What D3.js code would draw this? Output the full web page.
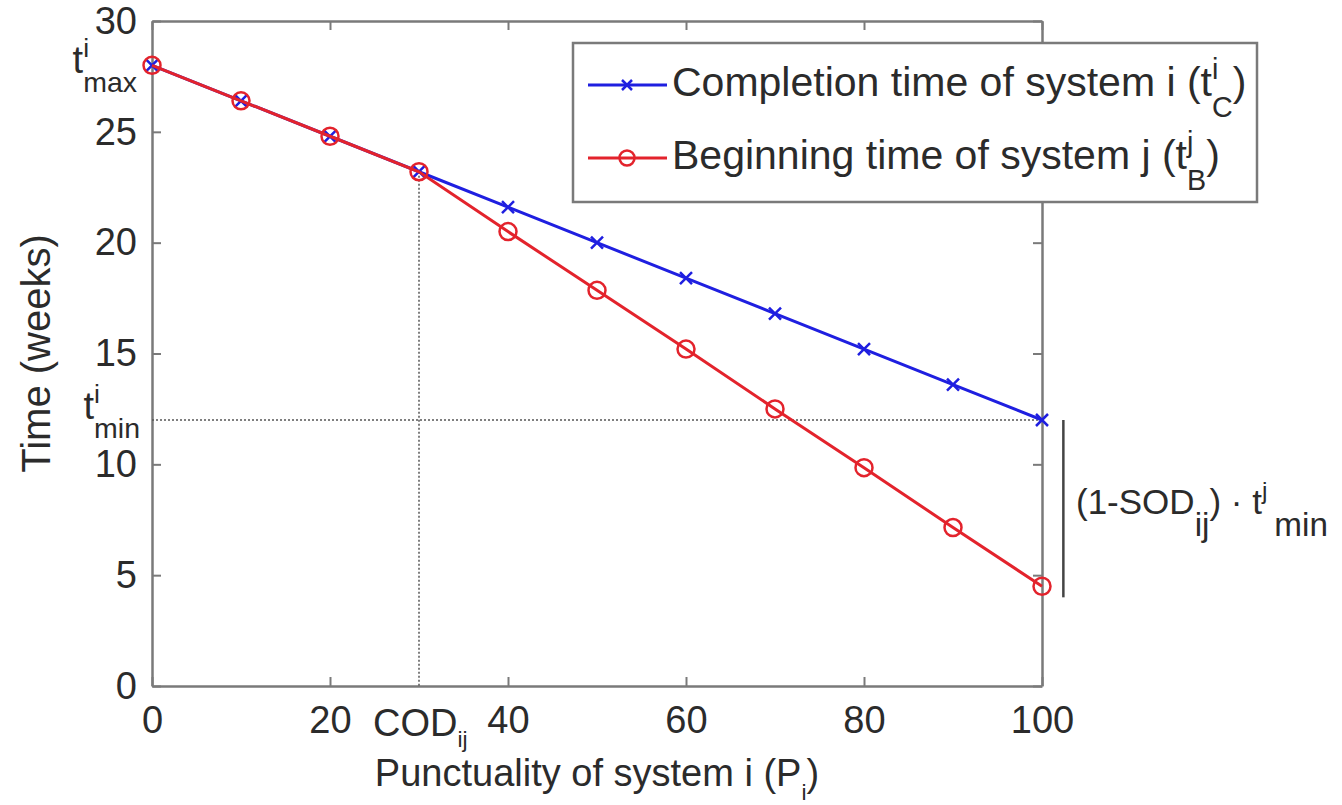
<!DOCTYPE html>
<html>
<head>
<meta charset="utf-8">
<script src="https://cdn.jsdelivr.net/npm/d3@7"></script>
<style>
  body { margin: 0; background: #fff; }
  svg { font-family: "Liberation Sans", Arial, Helvetica, sans-serif; }
  text { fill: #2b2b2b; }
</style>
</head>
<body>
<div id="chart-area"></div>
<script>
// data
const punctuality = [0, 10, 20, 30, 40, 50, 60, 70, 80, 90, 100];
const completionTime = [28, 26.4, 24.8, 23.2, 21.6, 20.0, 18.4, 16.8, 15.2, 13.6, 12.0];
const beginningTime = [28, 26.4, 24.8, 23.2, 20.5, 17.85, 15.2, 12.5, 9.85, 7.15, 4.5];
const xTicks = [0, 20, 40, 60, 80, 100];
const yTicks = [0, 5, 10, 15, 20, 25, 30];
const codX = 30, tMax = 28, tMin = 12, tEnd = 4;

const width = 1342, height = 805;
const blue = "#1f1fe0", red = "#e3232c", axisGrey = "#7a7a7a";

const svg = d3.select("#chart-area").append("svg")
    .attr("width", width)
    .attr("height", height);

svg.append("rect").attr("width", width).attr("height", height).attr("fill", "#fff");

const x = d3.scaleLinear().domain([0, 100]).range([152, 1042]);
const y = d3.scaleLinear().domain([0, 30]).range([686, 21]);

// small helper for text with sup/subscripts (like matlab tex labels)
function mathText(g, px, py, parts, size, anchor, subScale = 0.7, subDrop = 0.5) {
    const grp = g.append("g");
    let cx = 0;
    parts.forEach(p => {
        if (p.t !== undefined) {
            const el = grp.append("text").attr("x", cx).attr("y", 0)
                .style("font-size", size + "px").text(p.t);
            cx += el.node().getComputedTextLength();
        } else {
            let w = 0;
            if (p.sup) {
                const s = grp.append("text").attr("x", cx).attr("y", -size * 0.42)
                    .style("font-size", (size * 0.7) + "px").text(p.sup);
                w = Math.max(w, s.node().getComputedTextLength());
            }
            if (p.sub) {
                const s = grp.append("text").attr("x", cx).attr("y", size * subDrop)
                    .style("font-size", (size * subScale) + "px").text(p.sub);
                w = Math.max(w, s.node().getComputedTextLength());
            }
            cx += w;
        }
    });
    let dx = 0;
    if (anchor === "end") dx = -cx;
    if (anchor === "middle") dx = -cx / 2;
    grp.attr("transform", "translate(" + (px + dx) + "," + py + ")");
    return grp;
}

// axes
const tickLen = 9;
const axBottom = svg.append("g").attr("transform", "translate(0," + y(0) + ")")
    .call(d3.axisBottom(x).tickValues(xTicks).tickSizeInner(-tickLen).tickSizeOuter(0).tickPadding(20));
const axLeft = svg.append("g").attr("transform", "translate(" + x(0) + ",0)")
    .call(d3.axisLeft(y).tickValues(yTicks).tickSizeInner(-tickLen).tickSizeOuter(0).tickPadding(15));
const axTop = svg.append("g").attr("transform", "translate(0," + y(30) + ")")
    .call(d3.axisTop(x).tickValues(xTicks).tickSizeInner(-tickLen).tickSizeOuter(0).tickFormat(""));
const axRight = svg.append("g").attr("transform", "translate(" + x(100) + ",0)")
    .call(d3.axisRight(y).tickValues(yTicks).tickSizeInner(-tickLen).tickSizeOuter(0).tickFormat(""));

[axBottom, axLeft, axTop, axRight].forEach(a => {
    a.attr("font-family", null).attr("font-size", null);
    a.select(".domain").attr("stroke", axisGrey).attr("stroke-width", 2.5);
    a.selectAll(".tick line").attr("stroke", axisGrey).attr("stroke-width", 2);
    a.selectAll(".tick text").style("font-size", "38px").attr("fill", "#2b2b2b");
});

// dotted guide lines
svg.append("line")
    .attr("x1", x(codX)).attr("x2", x(codX))
    .attr("y1", y(completionTime[3])).attr("y2", y(0))
    .attr("stroke", "#555").attr("stroke-width", 1.5).attr("stroke-dasharray", "2,2");
svg.append("line")
    .attr("x1", x(0)).attr("x2", x(100))
    .attr("y1", y(tMin)).attr("y2", y(tMin))
    .attr("stroke", "#555").attr("stroke-width", 1.5).attr("stroke-dasharray", "2,2");

// series
const line = d3.line().x((d, i) => x(punctuality[i])).y(d => y(d));

svg.append("path").datum(completionTime)
    .attr("d", line).attr("fill", "none").attr("stroke", blue).attr("stroke-width", 3);

const xSize = 6;
function crossPath(cx, cy, s) {
    return "M" + (cx - s) + "," + (cy - s) + "L" + (cx + s) + "," + (cy + s) +
        "M" + (cx - s) + "," + (cy + s) + "L" + (cx + s) + "," + (cy - s);
}
svg.selectAll(".xmark").data(completionTime).enter().append("path")
    .attr("class", "xmark")
    .attr("d", (d, i) => crossPath(x(punctuality[i]), y(d), xSize))
    .attr("stroke", blue).attr("stroke-width", 2.5).attr("fill", "none");

svg.append("path").datum(beginningTime)
    .attr("d", line).attr("fill", "none").attr("stroke", red).attr("stroke-width", 3);

svg.selectAll(".omark").data(beginningTime).enter().append("circle")
    .attr("class", "omark")
    .attr("cx", (d, i) => x(punctuality[i]))
    .attr("cy", d => y(d))
    .attr("r", 8.5)
    .attr("fill", "none").attr("stroke", red).attr("stroke-width", 2.5);

// legend
const legend = svg.append("g");
legend.append("rect")
    .attr("x", 573).attr("y", 43).attr("width", 684).attr("height", 159)
    .attr("fill", "#fff").attr("stroke", axisGrey).attr("stroke-width", 2.5);

const rows = [85, 158];
legend.append("line").attr("x1", 588).attr("x2", 667).attr("y1", rows[0]).attr("y2", rows[0])
    .attr("stroke", blue).attr("stroke-width", 3);
legend.append("path").attr("d", crossPath(627, rows[0], 5))
    .attr("stroke", blue).attr("stroke-width", 2.5);
legend.append("line").attr("x1", 588).attr("x2", 667).attr("y1", rows[1]).attr("y2", rows[1])
    .attr("stroke", red).attr("stroke-width", 3);
legend.append("circle").attr("cx", 627).attr("cy", rows[1]).attr("r", 7.5)
    .attr("fill", "none").attr("stroke", red).attr("stroke-width", 2.5);

mathText(legend, 672, rows[0] + 11,
    [{t: "Completion time of system i (t"}, {sup: "i", sub: "C"}, {t: ")"}], 41, "start");
mathText(legend, 672, rows[1] + 11,
    [{t: "Beginning time of system j (t"}, {sup: "j", sub: "B"}, {t: ")"}], 41, "start");

// annotations on the axes
mathText(svg, 137, y(tMax) + 8, [{t: "t"}, {sup: "i", sub: "max"}], 38, "end", 0.75);
mathText(svg, 140, y(tMin) - 1, [{t: "t"}, {sup: "i", sub: "min"}], 38, "end", 0.75);
mathText(svg, 373, y(0) + 50, [{t: "COD"}, {sub: "ij"}], 38, "start", 0.6, 0.3);

// bracket for (1-SOD) * tmin
svg.append("line")
    .attr("x1", x(102.4)).attr("x2", x(102.4))
    .attr("y1", y(tMin)).attr("y2", y(tEnd))
    .attr("stroke", "#444").attr("stroke-width", 2.5);
mathText(svg, 1076, 514,
    [{t: "(1-SOD"}, {sub: "ij"}, {t: ") \u00b7 t"}, {sup: "j"}, {t: "\u2009"}, {sub: "min"}], 35, "start", 0.95, 0.62);

// axis titles
mathText(svg, (x(0) + x(100)) / 2, 786,
    [{t: "Punctuality of system i (P"}, {sub: "i"}, {t: ")"}], 38, "middle", 0.6, 0.38);
svg.append("text")
    .attr("transform", "translate(50," + ((y(0) + y(30)) / 2) + ") rotate(-90)")
    .attr("text-anchor", "middle")
    .style("font-size", "40px")
    .text("Time (weeks)");
</script>
</body>
</html>
